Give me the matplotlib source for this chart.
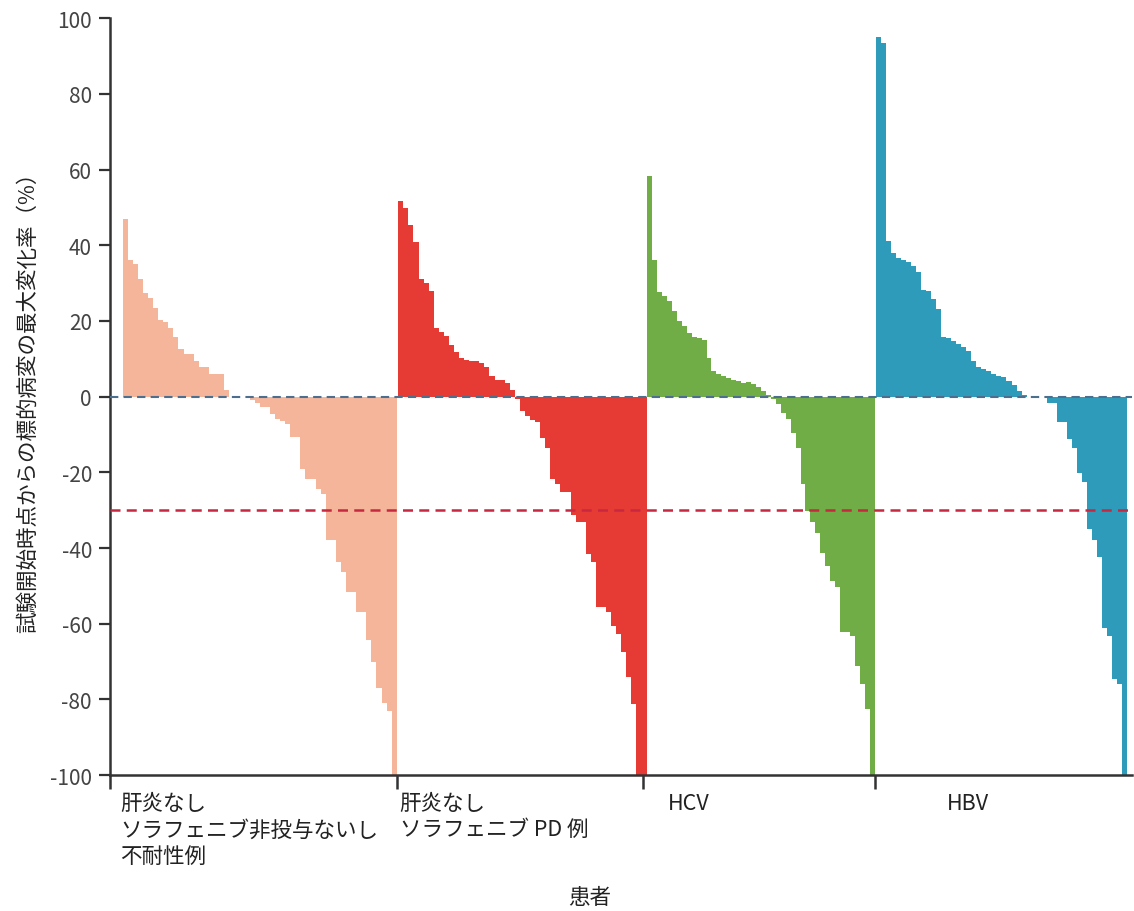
import numpy as np
import matplotlib
matplotlib.use("Agg")
import matplotlib.pyplot as plt

plt.rcParams['font.family'] = ['Noto Sans CJK JP', 'DejaVu Sans']
plt.rcParams['axes.unicode_minus'] = False

# maximum change (%) per patient, sorted within each group
no_hep_naive = [47, 36, 35, 31, 27.5, 26, 23.5, 20.3, 19.8, 18.2, 15.8, 12.7, 11.2, 11.2,
                9.5, 7.7, 7.7, 6.1, 6.1, 6.1, 1.7, 0, 0, 0, 0,
                -1.0, -1.8, -2.7, -2.7, -4.5, -5.8, -6.5, -7.1, -10.6, -10.6, -19, -21.7,
                -21.7, -24.3, -25.6, -37.9, -37.9, -43.6, -46.3, -51.5, -51.5, -56.8,
                -56.8, -64.3, -70, -77, -81, -83.1, -100]
no_hep_pd = [51.8, 49.8, 45.4, 40.8, 31.0, 30.0, 27.8, 18.1, 17.2, 15.9, 13.7, 11.8, 10.2,
             9.8, 9.4, 9.4, 9.0, 7.7, 5.5, 4.3, 4.3, 3.7, 1.7,
             -0.7, -3.7, -5.0, -6.3, -6.8, -10.8, -13.5, -21.8, -23.1, -25.3, -25.3, -31.4,
             -33.2, -33.2, -41.6, -43.8, -55.7, -55.7, -57, -60.5, -62.7, -67.6, -74.1,
             -81.2, -100, -100]
hcv = [58.2, 36.0, 27.7, 26.6, 25.3, 22.5, 20.0, 18.7, 16.9, 15.8, 15.4, 14.9, 10.1, 6.8,
       5.9, 5.4, 5.0, 4.4, 4.1, 3.7, 3.9, 3.4, 2.5, 1.5, 0.3,
       -0.5, -2.0, -4.2, -5.8, -9.5, -13.5, -23.1, -30.2, -33.2, -35.9, -41.2, -44.7,
       -48.6, -50.4, -62.3, -62.3, -63.2, -71.1, -75.9, -82.5, -100]
hbv = [94.9, 93.4, 41.2, 38.0, 36.5, 36.2, 35.5, 34.4, 32.8, 28.2, 28.0, 25.8, 23.1, 15.7,
       15.4, 14.6, 13.9, 13.0, 12.1, 9.5, 7.9, 7.3, 6.7, 6.0, 5.5, 5.1, 4.2, 3.1, 1.6, 0.5,
       0, 0, 0, 0,
       -1.6, -1.6, -6.7, -6.7, -11.3, -13.5, -20.1, -22.6, -35, -37.9, -42.5, -61.0,
       -63.2, -74.6, -75.9, -100]

groups = [no_hep_naive, no_hep_pd, hcv, hbv]
group_labels = ['肝炎なし\nソラフェニブ非投与ないし\n不耐性例', '肝炎なし\nソラフェニブ PD 例', 'HCV', 'HBV']
colors = ['#F4B59B', '#E53B34', '#71AD47', '#2E9BBA']

# horizontal span of each group on the x axis (patient slots)
spans = [(2.5, 56.8), (57.1, 106.3), (106.4, 151.5), (151.8, 201.4)]
group_ticks = [0, 56.8, 105.6, 151.6]
label_x = [2.0, 57.4, 110.5, 165.7]

fig = plt.figure(figsize=(11.34, 9.12), dpi=100)
ax = fig.add_axes([0.097, 0.149, 0.901, 0.830])

for vals, (x0, x1), c in zip(groups, spans, colors):
    n = len(vals)
    w = (x1 - x0) / n
    xs = x0 + w * (np.arange(n) + 0.5)
    ax.bar(xs, vals, width=w, color=c, linewidth=0, zorder=2)

ax.axhline(0, color='#4E6E8E', linestyle=(0, (4, 2.5)), linewidth=1.5, zorder=3)
ax.axhline(-30, color='#C8283F', linestyle=(0, (4, 2.5)), linewidth=1.8, zorder=3)

ax.set_xlim(0, 202.4)
ax.set_ylim(-100, 100)
ax.set_yticks(np.arange(-100, 101, 20))
ax.set_xticks(group_ticks)
ax.set_xticklabels([])
ax.tick_params(axis='y', length=8, width=1.6, color='#333333', labelsize=15,
               labelcolor='#444444', pad=5)
ax.tick_params(axis='x', length=10, width=1.8, color='#333333')

for s in ['top', 'right']:
    ax.spines[s].set_visible(False)
for s in ['left', 'bottom']:
    ax.spines[s].set_linewidth(1.8)
    ax.spines[s].set_color('#333333')

for lx, lab in zip(label_x, group_labels):
    ax.text(lx, -104.5, lab, ha='left', va='top', fontsize=15.5, color='#222222',
            linespacing=1.25)

ax.set_ylabel('試験開始時点からの標的病変の最大変化率（%）', fontsize=15.5, color='#222222',
              labelpad=8)
fig.text(590 / 1134, 1 - 898 / 912, '患者', ha='center', va='center', fontsize=15.5,
         color='#222222')

fig.savefig('out.png', dpi=100)
